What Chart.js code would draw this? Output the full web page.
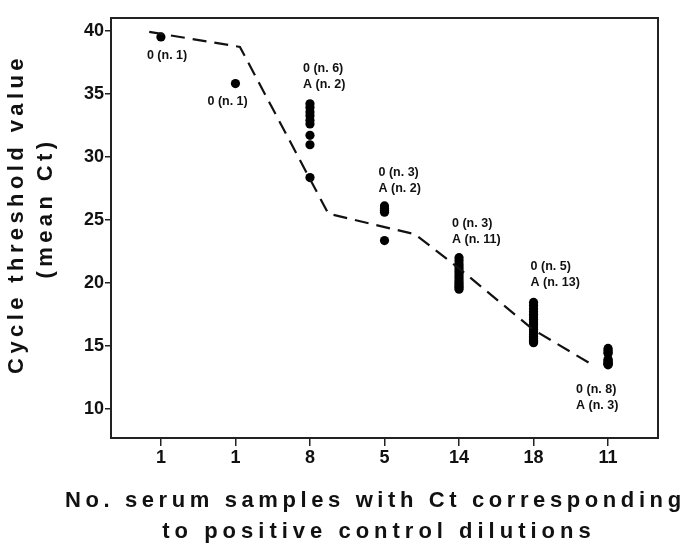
<!DOCTYPE html>
<html>
<head>
<meta charset="utf-8">
<script src="https://cdn.jsdelivr.net/npm/chart.js@4/dist/chart.umd.min.js"></script>
<style>
  html, body { margin: 0; padding: 0; background: #ffffff; }
  #wrap { width: 683px; height: 543px; }
</style>
</head>
<body>
<div id="wrap"><canvas id="c" width="683" height="543"></canvas></div>
<script>
// ---------------- data ----------------
const categories = ['1', '1', '8', '5', '14', '18', '11'];

const ctCat0 = [39.5];
const ctCat1 = [35.8];
const ctCat2 = [34.2, 33.9, 33.55, 33.25, 32.9, 32.6, 31.7, 30.95, 28.35];
const ctCat3 = [26.1, 25.9, 25.75, 25.6, 23.35];
const ctCat4 = [22.0, 21.75, 21.5, 21.3, 21.1, 20.9, 20.7, 20.5, 20.3, 20.1, 19.95, 19.8, 19.65, 19.5];
const ctCat5 = [18.45, 18.2, 17.95, 17.7, 17.5, 17.3, 17.1, 16.9, 16.7, 16.5, 16.3, 16.1, 15.9, 15.75, 15.6, 15.45, 15.35, 15.25];
const ctCat6 = [14.8, 14.65, 14.5, 14.4, 13.95, 13.85, 13.75, 13.65, 13.6, 13.55, 13.5];
const ctByCategory = [ctCat0, ctCat1, ctCat2, ctCat3, ctCat4, ctCat5, ctCat6];

const trendX  = [-0.157, 1.06, 2.246, 3.409, 4.0, 4.993, 5.826];
const trendCt = [39.9, 38.71, 25.49, 23.85, 21.15, 16.3, 13.37];

const groupLabels = [
  ['0 (n. 1)'],
  ['0 (n. 1)'],
  ['0 (n. 6)', 'A (n. 2)'],
  ['0 (n. 3)', 'A (n. 2)'],
  ['0 (n. 3)', 'A (n. 11)'],
  ['0 (n. 5)', 'A (n. 13)'],
  ['0 (n. 8)', 'A (n. 3)']
];
const groupLabelCt = [38.06, 34.4, 37.02, 28.77, 24.72, 21.31, 11.55];

const yTicks = [10, 15, 20, 25, 30, 35, 40];
const xTitle = ['No. serum samples with Ct corresponding', 'to positive control dilutions'];
const yTitle = ['Cycle threshold value', '(mean Ct)'];

// ---------------- styles ----------------
const FONT = "'Liberation Sans', Arial, Helvetica, sans-serif";
const labelShiftPx = [-14, -28, -7, -6, -7, -3, -32];

const points = [];
ctByCategory.forEach((arr, i) => arr.forEach(v => points.push({ x: i, y: v })));
const trend = trendX.map((x, i) => ({ x: x, y: trendCt[i] }));

const framePlugin = {
  id: 'frame',
  afterDatasetsDraw(chart) {
    const { ctx, chartArea: a } = chart;
    ctx.save();
    ctx.strokeStyle = '#222';
    ctx.lineWidth = 2;
    ctx.strokeRect(a.left, a.top, a.right - a.left, a.bottom - a.top);
    ctx.restore();
  }
};

const labelPlugin = {
  id: 'groupLabels',
  afterDatasetsDraw(chart) {
    const { ctx } = chart;
    const xs = chart.scales.x, ys = chart.scales.y;
    ctx.save();
    ctx.fillStyle = '#111';
    ctx.font = 'bold 12.5px ' + FONT;
    ctx.textAlign = 'left';
    ctx.textBaseline = 'middle';
    groupLabels.forEach((lines, i) => {
      const px = xs.getPixelForValue(i) + labelShiftPx[i];
      const py = ys.getPixelForValue(groupLabelCt[i]);
      lines.forEach((t, k) => ctx.fillText(t, px, py + k * 16.5));
    });
    ctx.restore();
  }
};

const titlePlugin = {
  id: 'axisTitles',
  afterDraw(chart) {
    const { ctx } = chart;
    ctx.save();
    ctx.fillStyle = '#111';
    ctx.font = 'bold 22px ' + FONT;
    ctx.textBaseline = 'alphabetic';
    ctx.letterSpacing = '4.6px';
    ctx.textAlign = 'left';
    ctx.fillText(xTitle[0], 65, 507);
    ctx.letterSpacing = '5px';
    ctx.textAlign = 'center';
    ctx.fillText(xTitle[1], 379, 538);
    ctx.letterSpacing = '4.4px';
    ctx.save();
    ctx.translate(23, 214);
    ctx.rotate(-Math.PI / 2);
    ctx.fillText(yTitle[0], 0, 0);
    ctx.restore();
    ctx.save();
    ctx.translate(52, 208);
    ctx.rotate(-Math.PI / 2);
    ctx.fillText(yTitle[1], 0, 0);
    ctx.restore();
    ctx.restore();
  }
};

new Chart(document.getElementById('c'), {
  type: 'scatter',
  data: {
    datasets: [
      {
        type: 'line',
        data: trend,
        borderColor: '#111',
        borderWidth: 2.2,
        borderDash: [14, 8],
        pointRadius: 0,
        fill: false,
        tension: 0
      },
      {
        type: 'scatter',
        data: points,
        backgroundColor: '#000',
        borderWidth: 0,
        pointRadius: 4.6
      }
    ]
  },
  options: {
    responsive: false,
    animation: false,
    devicePixelRatio: 1,
    layout: { padding: { top: 18, right: 25, bottom: 65, left: 0 } },
    plugins: { legend: { display: false }, tooltip: { enabled: false } },
    scales: {
      x: {
        type: 'linear',
        min: -0.67,
        max: 6.67,
        afterBuildTicks: (s) => { s.ticks = categories.map((c, i) => ({ value: i })); },
        afterFit: (s) => { s.height = 40; },
        ticks: {
          callback: (v) => categories[v],
          color: '#111',
          font: { family: FONT, size: 18, weight: 'bold' },
          padding: 1,
          maxRotation: 0,
          autoSkip: false
        },
        grid: { drawOnChartArea: false, drawTicks: true, tickLength: 8, color: '#222', lineWidth: 1.5 },
        border: { display: false }
      },
      y: {
        min: 7.7,
        max: 41,
        afterBuildTicks: (s) => { s.ticks = yTicks.map(v => ({ value: v })); },
        afterFit: (s) => { s.width = 111; },
        ticks: {
          color: '#111',
          font: { family: FONT, size: 18, weight: 'bold' },
          padding: 1
        },
        grid: { drawOnChartArea: false, drawTicks: true, tickLength: 6, color: '#222', lineWidth: 1.5 },
        border: { display: false }
      }
    }
  },
  plugins: [framePlugin, labelPlugin, titlePlugin]
});
</script>
</body>
</html>
